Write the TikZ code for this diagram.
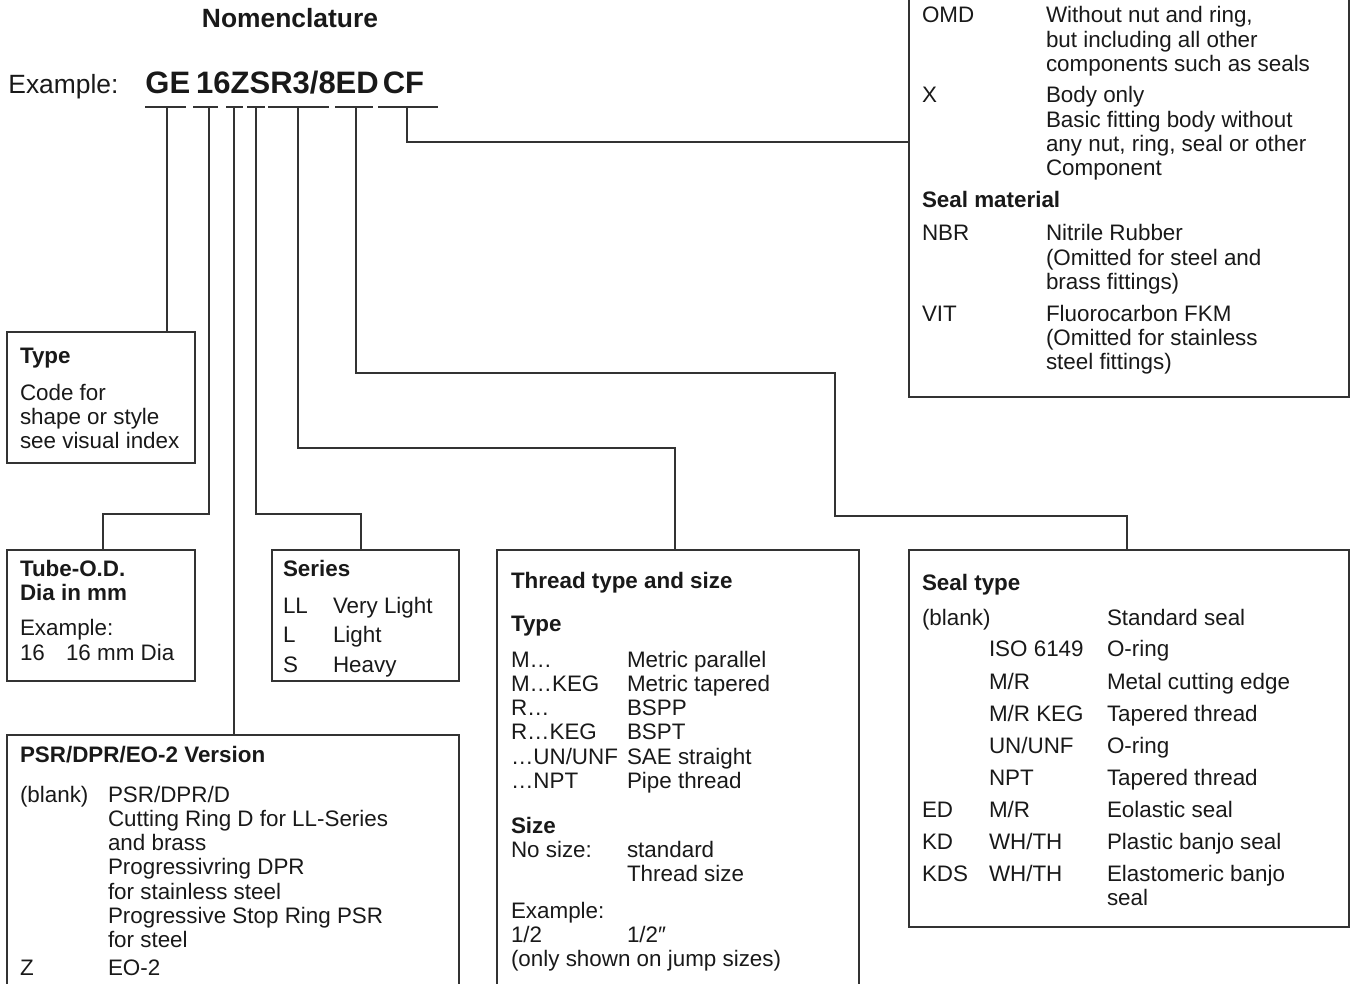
\documentclass[tikz,border=0pt]{standalone}
\usepackage{fontspec}
\setmainfont{Liberation Sans}
\usetikzlibrary{fit,calc}
\newcommand\bodyfnt{\fontsize{11.2}{12.15}\selectfont}
\newcommand\ml[1]{\begin{tabular}[t]{@{}l@{}}#1\end{tabular}}
\begin{document}
\begin{tikzpicture}[x=0.5pt,y=-0.5pt,
  ln/.style={draw=black!80,line width=0.75pt},
  boxst/.style={draw=black!80,line width=0.75pt,inner sep=0pt},
  txt/.style={anchor=base west,inner sep=0pt,outer sep=0pt,font=\bodyfnt,text=black!90},
  hd/.style={txt,font=\bodyfnt\bfseries},
]
\useasboundingbox (0,0) rectangle (1353,984);
\clip (0,0) rectangle (1353,984);

% ---- heading ----
\node[anchor=base,inner sep=0pt,font=\fontsize{13.2}{15}\selectfont\bfseries,text=black!90] (title) at (290,28) {Nomenclature};
\node[anchor=base west,inner sep=0pt,font=\fontsize{13.2}{15}\selectfont,text=black!90] (exlbl) at (8,94) {Example:};
\node[anchor=base west,inner sep=0pt,font=\fontsize{15.5}{18}\selectfont\bfseries,text=black!90] (code) at (145,94) {GE\hspace{3pt}16ZSR3/8ED\hspace{2pt}CF};

% ---- underline segments ----
\draw[ln] (145,107) -- (186,107);
\draw[ln] (193,107) -- (218,107);
\draw[ln] (226,107) -- (243,107);
\draw[ln] (247,107) -- (265,107);
\draw[ln] (268,107) -- (329,107);
\draw[ln] (335,107) -- (373,107);
\draw[ln] (378,107) -- (438,107);
\coordinate (u1) at (167,107);
\coordinate (u2) at (209,107);
\coordinate (u3) at (234,107);
\coordinate (u4) at (256,107);
\coordinate (u5) at (298,107);
\coordinate (u6) at (356,107);
\coordinate (u7) at (407,107);

% ---- boxes ----
\node[boxst,fit={(7,332)(195,463)}] (typebox) {};
\node[boxst,fit={(7,550)(195,681)}] (tubebox) {};
\node[boxst,fit={(272,550)(459,681)}] (seriesbox) {};
\node[boxst,fit={(7,735)(459,1000)}] (psrbox) {};
\node[boxst,fit={(497,550)(859,1000)}] (threadbox) {};
\node[boxst,fit={(909,550)(1349,927)}] (sealbox) {};
\node[boxst,fit={(909,-20)(1349,397)}] (topbox) {};

% ---- connectors ----
\draw[ln] (u1) -- (u1 |- typebox.north);
\coordinate (b2a) at (209,514);
\coordinate (b2b) at (103,514);
\draw[ln] (u2) -- (b2a) -- (b2b) -- (b2b |- tubebox.north);
\draw[ln] (u3) -- (u3 |- psrbox.north);
\coordinate (b4) at (361,514);
\draw[ln] (u4) |- (b4) -- (b4 |- seriesbox.north);
\coordinate (b5) at (675,448);
\draw[ln] (u5) |- (b5) -- (b5 |- threadbox.north);
\coordinate (b6a) at (835,373);
\coordinate (b6b) at (1127,516);
\draw[ln] (u6) |- (b6a) |- (b6b) -- (b6b |- sealbox.north);
\coordinate (c7) at (909,142);
\draw[ln] (u7) |- (c7);

% ---- Type box ----
\node[hd] (typehd) at (20,363) {Type};
\node[txt] (typetx) at (20,400) {\ml{Code for\\shape or style\\see visual index}};

% ---- Tube box ----
\node[hd] (tubehd) at (20,576) {\ml{Tube-O.D.\\Dia in mm}};
\node[txt] (tubeex) at (20,635) {Example:};
\node[txt] (tubek) at (20,660) {16};
\node[txt] (tubev) at (66,660) {16 mm Dia};

% ---- Series box ----
\node[hd] (serhd) at (283,576) {Series};
\node[txt] (serk1) at (283,613) {LL};
\node[txt] (serv1) at (333,613) {Very Light};
\node[txt] (serk2) at (283,642) {L};
\node[txt] (serv2) at (333,642) {Light};
\node[txt] (serk3) at (283,672) {S};
\node[txt] (serv3) at (333,672) {Heavy};

% ---- PSR box ----
\node[hd] (psrhd) at (20,762) {PSR/DPR/EO-2 Version};
\node[txt] (psrk1) at (20,802) {(blank)};
\node[txt] (psrv1) at (108,802) {\ml{PSR/DPR/D\\Cutting Ring D for LL-Series\\and brass\\Progressivring DPR\\for stainless steel\\Progressive Stop Ring PSR\\for steel}};
\node[txt] (psrk2) at (20,975) {Z};
\node[txt] (psrv2) at (108,975) {EO-2};

% ---- Thread box ----
\node[hd] (thrhd) at (511,588) {Thread type and size};
\node[hd] (thrtype) at (511,631) {Type};
\node[txt] (thrk) at (511,667) {\ml{M…\\M…KEG\\R…\\R…KEG\\…UN/UNF\\…NPT}};
\node[txt] (thrv) at (627,667) {\ml{Metric parallel\\Metric tapered\\BSPP\\BSPT\\SAE straight\\Pipe thread}};
\node[hd] (thrsize) at (511,833) {Size};
\node[txt] (thrns) at (511,857) {No size:};
\node[txt] (thrnsv) at (627,857) {\ml{standard\\Thread size}};
\node[txt] (threx) at (511,918) {\ml{Example:\\1/2\\(only shown on jump sizes)}};
\node[txt] (threxv) at (627,942) {1/2″};

% ---- Seal type box ----
\node[hd] (sealhd) at (922,590) {Seal type};
\node[txt] (s1a) at (922,625) {(blank)};
\node[txt] (s1c) at (1107,625) {Standard seal};
\node[txt] (s2b) at (989,656) {ISO 6149};
\node[txt] (s2c) at (1107,656) {O-ring};
\node[txt] (s3b) at (989,689) {M/R};
\node[txt] (s3c) at (1107,689) {Metal cutting edge};
\node[txt] (s4b) at (989,721) {M/R KEG};
\node[txt] (s4c) at (1107,721) {Tapered thread};
\node[txt] (s5b) at (989,753) {UN/UNF};
\node[txt] (s5c) at (1107,753) {O-ring};
\node[txt] (s6b) at (989,785) {NPT};
\node[txt] (s6c) at (1107,785) {Tapered thread};
\node[txt] (s7a) at (922,817) {ED};
\node[txt] (s7b) at (989,817) {M/R};
\node[txt] (s7c) at (1107,817) {Eolastic seal};
\node[txt] (s8a) at (922,849) {KD};
\node[txt] (s8b) at (989,849) {WH/TH};
\node[txt] (s8c) at (1107,849) {Plastic banjo seal};
\node[txt] (s9a) at (922,881) {KDS};
\node[txt] (s9b) at (989,881) {WH/TH};
\node[txt] (s9c) at (1107,881) {\ml{Elastomeric banjo\\seal}};

% ---- top right box ----
\node[txt] (t1a) at (922,23) {OMD};
\node[txt] (t1b) at (1046,23) {\ml{Without nut and ring,\\but including all other\\components such as seals}};
\node[txt] (t2a) at (922,103) {X};
\node[txt] (t2b) at (1046,103) {\ml{Body only\\Basic fitting body without\\any nut, ring, seal or other\\Component}};
\node[hd] (tsm) at (922,207) {Seal material};
\node[txt] (t3a) at (922,241) {NBR};
\node[txt] (t3b) at (1046,241) {\ml{Nitrile Rubber\\(Omitted for steel and\\brass fittings)}};
\node[txt] (t4a) at (922,321) {VIT};
\node[txt] (t4b) at (1046,321) {\ml{Fluorocarbon FKM\\(Omitted for stainless\\steel fittings)}};
\end{tikzpicture}
\end{document}
